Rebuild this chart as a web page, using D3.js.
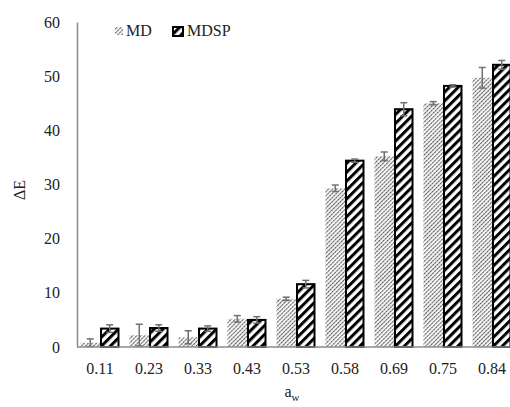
<!DOCTYPE html>
<html><head><meta charset="utf-8">
<script src="https://cdn.jsdelivr.net/npm/d3@7"></script>
<style>
html,body{margin:0;padding:0;background:#fff;}
svg{display:block;}
text{font-family:"Liberation Serif","Times New Roman",serif;fill:#222;}
</style></head>
<body>
<svg id="c" width="510" height="407"></svg>
<script>
const categories = ["0.11","0.23","0.33","0.43","0.53","0.58","0.69","0.75","0.84"];
const mdValues   = [0.8, 2.2, 1.8, 5.2, 8.9, 29.3, 35.2, 45.0, 49.7];
const mdErrors   = [0.7, 2.0, 1.2, 0.6, 0.3, 0.6, 0.8, 0.3, 1.9];
const mdspValues = [3.4, 3.5, 3.4, 5.0, 11.6, 34.4, 43.9, 48.2, 52.1];
const mdspErrors = [0.7, 0.6, 0.5, 0.6, 0.7, 0.3, 1.2, 0.2, 0.8];
const yTicks = [0,10,20,30,40,50,60];

const svg = d3.select("#c");
const defs = svg.append("defs");

const p1 = defs.append("pattern").attr("id","mdPat").attr("patternUnits","userSpaceOnUse")
  .attr("width",2.9).attr("height",3).attr("patternTransform","rotate(45)");
p1.append("rect").attr("width",2.9).attr("height",3).attr("fill","#fff");
p1.append("line").attr("x1",0.6).attr("y1",0).attr("x2",0.6).attr("y2",3)
  .attr("stroke","#555").attr("stroke-width",1.1).attr("stroke-dasharray","2.4,0.6");

const p2 = defs.append("pattern").attr("id","mdspPat").attr("patternUnits","userSpaceOnUse")
  .attr("width",6.3).attr("height",6.3).attr("patternTransform","rotate(45)");
p2.append("rect").attr("width",6.3).attr("height",6.3).attr("fill","#fff");
p2.append("line").attr("x1",1.5).attr("y1",0).attr("x2",1.5).attr("y2",6.3)
  .attr("stroke","#000").attr("stroke-width",3);

const y = d3.scaleLinear().domain([0,60]).range([347,22]);
const x = d3.scaleBand().domain(categories).range([75.5,516.5]).padding(0);
const sub = d3.scaleBand().domain(["MD","MDSP"]).range([5, x.bandwidth()-5]).padding(0);

// axes
const yAxis = svg.append("g").attr("transform","translate(77,0)")
  .call(d3.axisLeft(y).tickValues(yTicks).tickSize(0).tickPadding(17));
yAxis.select(".domain").attr("stroke","#8c8c8c").attr("stroke-width",1.5);
yAxis.selectAll("text").attr("font-size","16px").attr("fill","#222")
  .style("font-family",'"Liberation Serif",serif');

// bars
const g = svg.append("g");
categories.forEach((c,i)=>{
  const bx = x(c);
  g.append("rect").attr("x",bx+sub("MD")).attr("y",y(mdValues[i]))
    .attr("width",sub.bandwidth()).attr("height",y(0)-y(mdValues[i]))
    .attr("fill","url(#mdPat)");
  g.append("rect").attr("x",bx+sub("MDSP")+1).attr("y",y(mdspValues[i]))
    .attr("width",sub.bandwidth()-2).attr("height",y(0)-y(mdspValues[i]))
    .attr("fill","url(#mdspPat)").attr("stroke","#000").attr("stroke-width",2);
});
// error bars
const eg = svg.append("g").attr("stroke","#707070").attr("stroke-width",1.5);
function err(cx, v, e){
  eg.append("line").attr("x1",cx).attr("x2",cx).attr("y1",y(v-e)).attr("y2",y(v+e));
  eg.append("line").attr("x1",cx-3.5).attr("x2",cx+3.5).attr("y1",y(v+e)).attr("y2",y(v+e));
  eg.append("line").attr("x1",cx-3.5).attr("x2",cx+3.5).attr("y1",y(v-e)).attr("y2",y(v-e));
}
categories.forEach((c,i)=>{
  err(x(c)+sub("MD")+sub.bandwidth()/2, mdValues[i], mdErrors[i]);
  err(x(c)+sub("MDSP")+sub.bandwidth()/2, mdspValues[i], mdspErrors[i]);
});

const xAxis = svg.append("g").attr("transform","translate(0,347)")
  .call(d3.axisBottom(x).tickSize(0).tickPadding(16));
xAxis.select(".domain").attr("stroke","#8c8c8c").attr("stroke-width",1.5)
  .attr("d","M77,0H516");
xAxis.selectAll("text").attr("font-size","16px").attr("fill","#222")
  .style("font-family",'"Liberation Serif",serif');

// titles
svg.append("text").attr("transform","translate(25,190) rotate(-90)")
  .attr("text-anchor","middle").attr("font-size","16px").text("ΔE");
const xt = svg.append("text").attr("x",292).attr("y",397).attr("text-anchor","middle").attr("font-size","16px");
xt.append("tspan").text("a");
xt.append("tspan").attr("dy",4).attr("font-size","11px").text("w");

// legend
const lg = svg.append("g");
lg.append("rect").attr("x",115).attr("y",27).attr("width",8).attr("height",8).attr("fill","url(#mdPat)");
lg.append("text").attr("x",126).attr("y",36).attr("font-size","16px").text("MD");
lg.append("rect").attr("x",173).attr("y",27).attr("width",10).attr("height",9)
  .attr("fill","url(#mdspPat)").attr("stroke","#000").attr("stroke-width",2);
lg.append("text").attr("x",187).attr("y",36).attr("font-size","16px").text("MDSP");
</script>
</body></html>
